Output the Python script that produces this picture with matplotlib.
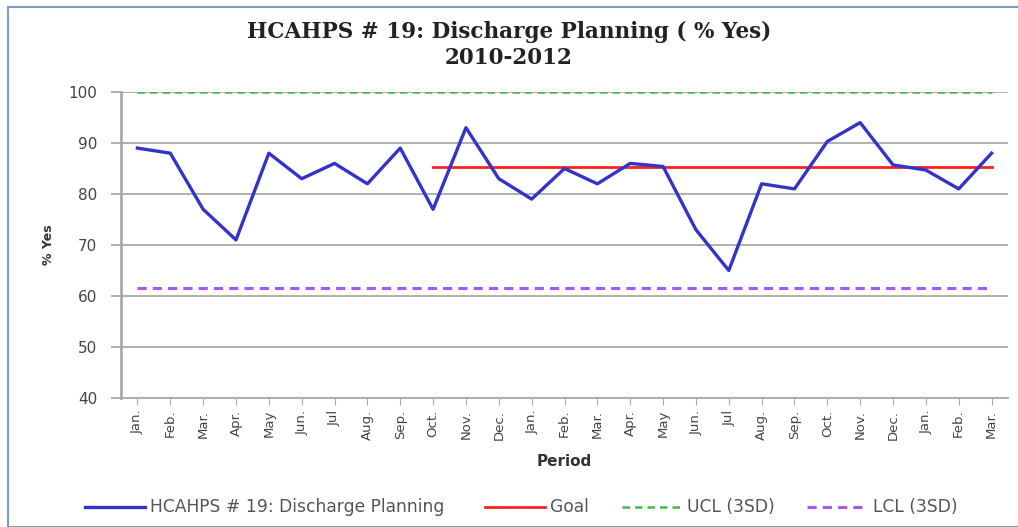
import matplotlib
matplotlib.use("Agg")
import matplotlib.pyplot as plt
from matplotlib.patches import Rectangle
from matplotlib.lines import Line2D

months = ["Jan.", "Feb.", "Mar.", "Apr.", "May", "Jun.", "Jul", "Aug.", "Sep.", "Oct.", "Nov.", "Dec.",
          "Jan.", "Feb.", "Mar.", "Apr.", "May", "Jun.", "Jul", "Aug.", "Sep.", "Oct.", "Nov.", "Dec.",
          "Jan.", "Feb.", "Mar."]
pct_yes = [89, 88, 77, 71, 88, 83, 86, 82, 89, 77, 93, 83,
           79, 85, 82, 86, 85.4, 73, 65, 82, 81, 90.3, 94, 85.7,
           84.7, 81, 88]
goal_value = 85.2
goal_start = 9
ucl_value = 100
lcl_value = 61.5
y_ticks = [40, 50, 60, 70, 80, 90, 100]
series_names = ["HCAHPS # 19: Discharge Planning", "Goal", "UCL (3SD)", "LCL (3SD)"]

fig = plt.figure(figsize=(10.18, 5.27), dpi=100)
W, H = 1018, 527
ax = fig.add_axes([121 / W, 1 - 398 / H, (1008 - 121) / W, (398 - 92) / H])

c_main, c_goal, c_ucl, c_lcl = "#3333cc", "#ff2020", "#44bb44", "#aa55ff"
st_main = dict(color=c_main, lw=2.4)
st_goal = dict(color=c_goal, lw=2.0)
st_ucl = dict(color=c_ucl, lw=1.8, ls=(0, (3, 2)))
st_lcl = dict(color=c_lcl, lw=2.2, ls=(0, (3, 2)))

x = list(range(len(pct_yes)))
ax.plot(x, pct_yes, zorder=5, **st_main)
ax.plot(x[goal_start:], [goal_value] * len(x[goal_start:]), zorder=4, **st_goal)
ax.plot(x, [ucl_value] * len(x), zorder=4, **st_ucl)
ax.plot(x, [lcl_value] * len(x), zorder=4, **st_lcl)

ax.set_xlim(-0.5, len(x) - 0.5)
ax.set_ylim(40, 100)
ax.set_yticks(y_ticks)
ax.set_yticklabels([str(v) for v in y_ticks], fontsize=11, color="#444444")
ax.yaxis.grid(True, color="#aaaaaa", lw=1.3)
ax.set_axisbelow(True)
ax.set_xticks(x)
ax.set_xticklabels(months, rotation=90, fontsize=9.5, color="#444444")
ax.tick_params(axis="x", length=5, color="#aaaaaa")
ax.tick_params(axis="y", length=7, color="#aaaaaa", width=1.3, pad=10)
for s in ["top", "right"]:
    ax.spines[s].set_visible(False)
ax.spines["left"].set_color("#aaaaaa")
ax.spines["left"].set_linewidth(2)
ax.spines["bottom"].set_color("#aaaaaa")
ax.spines["bottom"].set_linewidth(1.3)

ax.set_xlabel("Period", fontsize=11, fontweight="bold", color="#333333", labelpad=10)
ax.set_ylabel("% Yes", fontsize=9, fontweight="bold", color="#333333", labelpad=10)

fig.text(0.5, 1 - 32 / H, "HCAHPS # 19: Discharge Planning ( % Yes)", ha="center", va="center",
         fontsize=15.5, fontweight="bold", family="DejaVu Serif", color="#222222")
fig.text(0.5, 1 - 58 / H, "2010-2012", ha="center", va="center",
         fontsize=15.5, fontweight="bold", family="DejaVu Serif", color="#222222")

# legend drawn manually at reference positions
ly = 1 - 507 / H
legend_items = [((85, 145), 150, series_names[0], st_main),
                ((485, 545), 550, series_names[1], st_goal),
                ((622, 683), 687, series_names[2], st_ucl),
                ((807, 867), 873, series_names[3], st_lcl)]
for (x0, x1), tx, name, st in legend_items:
    fig.add_artist(Line2D([x0 / W, x1 / W], [ly, ly], transform=fig.transFigure, **st))
    fig.text(tx / W, ly, name, ha="left", va="center", fontsize=12.3, color="#555555")

fig.patches.append(Rectangle((8 / W, 0), 1.2, 1 - 7 / H, transform=fig.transFigure,
                             fill=False, edgecolor="#7a9cc0", lw=1.5))

fig.savefig("out.png", dpi=100)
